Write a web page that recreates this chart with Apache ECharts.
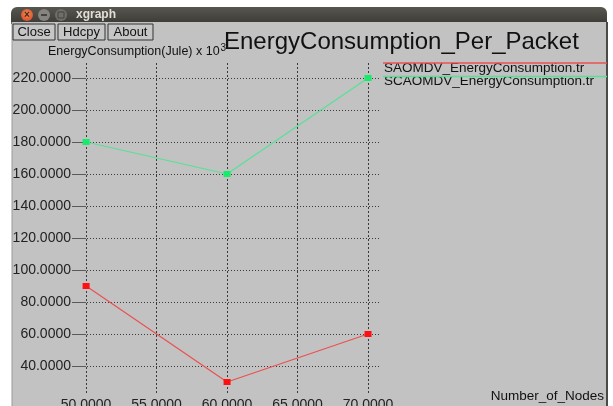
<!DOCTYPE html>
<html>
<head>
<meta charset="utf-8">
<title>xgraph</title>
<script src="https://cdn.jsdelivr.net/npm/echarts@6/dist/echarts.min.js"></script>
<style>
  html, body { margin: 0; padding: 0; background: #ffffff; }
  #chart { width: 613px; height: 406px; }
</style>
</head>
<body>
<div id="chart"></div>
<script>
// Number of nodes on the x axis
var nodes = [50, 60, 70];
// Energy consumption (x 10^3 Jule) per protocol
var saomdv = [90, 30, 60];
var scaomdv = [180, 160, 220];
// Tick positions
var xTicks = [50, 55, 60, 65, 70];
var yTicks = [40, 60, 80, 100, 120, 140, 160, 180, 200, 220];
var seriesNames = ['SAOMDV_EnergyConsumption.tr', 'SCAOMDV_EnergyConsumption.tr'];

var FONT = '"Liberation Sans", Arial, Helvetica, sans-serif';
var RED_LINE = '#ec5050', RED_PT = '#ff1010';
var GREEN_LINE = '#55e296', GREEN_PT = '#14ec6a';

function pairs(xs, ys) {
  return xs.map(function (x, i) { return [x, ys[i]]; });
}

var chart = echarts.init(document.getElementById('chart'), null, { renderer: 'canvas' });

function button(x, w, label) {
  return {
    type: 'group', x: x, y: 24,
    children: [
      { type: 'rect', shape: { x: 0, y: 0, width: w, height: 16 },
        style: { fill: '#c6c6c6', stroke: '#333', lineWidth: 1 } },
      { type: 'text', x: w / 2, y: 8,
        style: { text: label, fill: '#111', font: '13px ' + FONT, align: 'center', verticalAlign: 'middle' } }
    ]
  };
}

var option = {
  backgroundColor: '#ffffff',
  animation: false,
  graphic: [
    // window frame
    { type: 'rect', z: -10, shape: { x: 11, y: 7, width: 596, height: 17, r: [6, 6, 0, 0] },
      style: { fill: new echarts.graphic.LinearGradient(0, 0, 0, 1, [
        { offset: 0, color: '#57564f' }, { offset: 1, color: '#3b3a36' }]) } },
    { type: 'rect', z: -10, shape: { x: 12, y: 22, width: 594, height: 390 },
      style: { fill: '#c2c2c2' } },
    { type: 'line', z: -9, shape: { x1: 12, y1: 22, x2: 12, y2: 406 },
      style: { stroke: '#9a9a9a', lineWidth: 1 } },
    { type: 'rect', z: -9, shape: { x: 606, y: 22, width: 2, height: 390 },
      style: { fill: '#4a4a46' } },
    { type: 'circle', shape: { cx: 27, cy: 15, r: 6 },
      style: { fill: new echarts.graphic.RadialGradient(0.5, 0.4, 0.7, [
        { offset: 0, color: '#f58a5a' }, { offset: 1, color: '#d9461c' }]) } },
    { type: 'text', x: 27, y: 15,
      style: { text: '×', fill: '#3a2a20', font: 'bold 10px ' + FONT, align: 'center', verticalAlign: 'middle' } },
    { type: 'circle', shape: { cx: 44, cy: 15, r: 6 },
      style: { fill: '#85847e' } },
    { type: 'rect', shape: { x: 41, y: 14, width: 6, height: 2 }, style: { fill: '#45443f' } },
    { type: 'circle', shape: { cx: 61, cy: 15, r: 6 },
      style: { fill: '#6f6e69' } },
    { type: 'rect', shape: { x: 58, y: 12, width: 6, height: 6 }, style: { fill: 'none', stroke: '#45443f', lineWidth: 1 } },
    { type: 'text', x: 76, y: 15,
      style: { text: 'xgraph', fill: '#e2ded6', font: 'bold 12px ' + FONT, verticalAlign: 'middle' } },
    // toolbar buttons
    button(13, 42, 'Close'),
    button(58, 47, 'Hdcpy'),
    button(108, 45, 'About'),
    // y axis caption
    { type: 'text', x: 48, y: 52,
      style: {
        text: '{m|EnergyConsumption(Jule) x 10}{s|3}',
        verticalAlign: 'middle',
        rich: {
          m: { fill: '#111', font: '12.5px ' + FONT },
          s: { fill: '#111', font: '10px ' + FONT, verticalAlign: 'top', padding: [0, 0, 8, 1] }
        }
      } },
    // x axis caption
    { type: 'text', x: 604, y: 396,
      style: { text: 'Number_of_Nodes', fill: '#111', font: '13.5px ' + FONT, align: 'right', verticalAlign: 'middle' } },
    // legend
    { type: 'line', z: 10, shape: { x1: 383, y1: 63, x2: 607, y2: 63 }, style: { stroke: RED_LINE, lineWidth: 1.5 } },
    { type: 'text', x: 384, y: 68.5,
      style: { text: seriesNames[0], fill: '#111', font: '13.5px ' + FONT, verticalAlign: 'middle' } },
    { type: 'line', z: 10, shape: { x1: 383, y1: 76.5, x2: 607, y2: 76.5 }, style: { stroke: GREEN_LINE, lineWidth: 1.5 } },
    { type: 'text', x: 384, y: 81.5,
      style: { text: seriesNames[1], fill: '#111', font: '13.5px ' + FONT, verticalAlign: 'middle' } }
  ],
  title: {
    text: 'EnergyConsumption_Per_Packet',
    left: 219, top: 25,
    textStyle: { color: '#111', fontSize: 24, fontWeight: 'normal', fontFamily: FONT }
  },
  grid: { left: 72, top: 63, width: 308, height: 331, containLabel: false, outerBoundsMode: 'none' },
  xAxis: {
    type: 'value', min: 49.0, max: 70.85,
    axisLine: { show: false },
    axisTick: { show: false, customValues: xTicks },
    axisLabel: {
      customValues: xTicks, margin: 4,
      color: '#222', fontSize: 14, fontFamily: FONT,
      formatter: function (v) { return v.toFixed(4); }
    },
    splitLine: { show: true, lineStyle: { color: '#3a3a3a', type: [2, 2], width: 1 } }
  },
  yAxis: {
    type: 'value', min: 22.5, max: 229.375,
    axisLine: { show: false },
    axisTick: { show: true, inside: true, length: 14, customValues: yTicks,
      lineStyle: { color: '#5a5a5a', width: 1 } },
    axisLabel: {
      customValues: yTicks, margin: 1,
      color: '#222', fontSize: 14, fontFamily: FONT,
      formatter: function (v) { return v.toFixed(4); }
    },
    splitLine: { show: true, lineStyle: { color: '#3a3a3a', type: [1, 2], width: 1 } }
  },
  series: [
    {
      name: seriesNames[0], type: 'line',
      data: pairs(nodes, saomdv),
      symbol: 'rect', symbolSize: [7, 6],
      itemStyle: { color: RED_PT },
      lineStyle: { color: RED_LINE, width: 1.2 },
      z: 5
    },
    {
      name: seriesNames[1], type: 'line',
      data: pairs(nodes, scaomdv),
      symbol: 'rect', symbolSize: [7, 6],
      itemStyle: { color: GREEN_PT },
      lineStyle: { color: GREEN_LINE, width: 1.2 },
      z: 5
    }
  ]
};

chart.setOption(option);
</script>
</body>
</html>
